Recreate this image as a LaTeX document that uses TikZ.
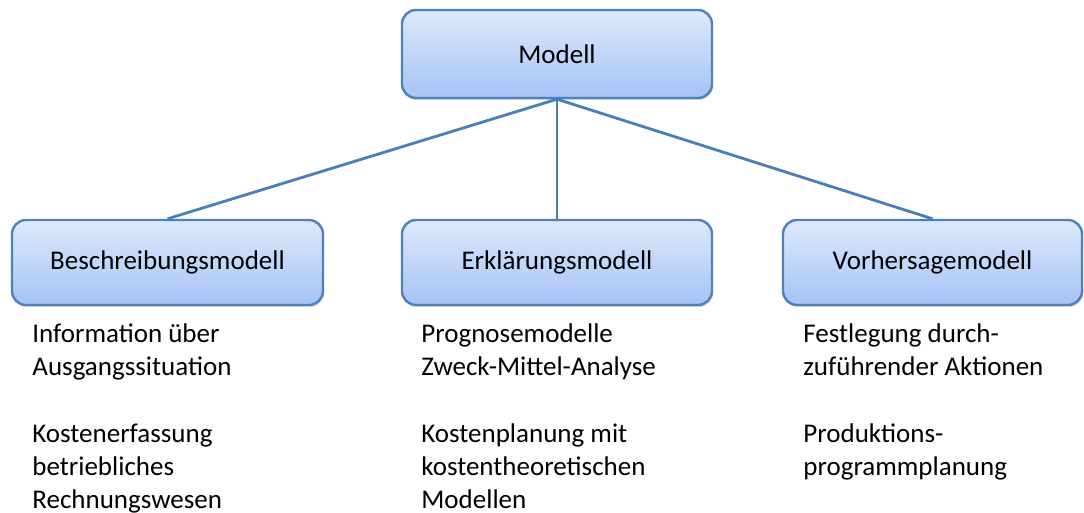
\documentclass[tikz,border=0pt]{standalone}
\usepackage{fontspec}
\setmainfont{Carlito}
\usetikzlibrary{shadows}
\definecolor{bord}{HTML}{4F81BD}
\definecolor{boxtop}{HTML}{DEE9FC}
\definecolor{boxbot}{HTML}{A5C3F4}
\definecolor{conncol}{HTML}{4A7EBB}
\begin{document}
\begin{tikzpicture}[x=0.5pt,y=-0.5pt,
  box/.style={draw=bord, line width=1.2pt, rounded corners=7pt,
    top color=boxtop, bottom color=boxbot, inner sep=0pt,
    font=\fontsize{13.5}{16.5}\selectfont,
    drop shadow={shadow xshift=0.6pt, shadow yshift=-1pt, opacity=0.25, fill=black!60}},
  conn/.style={draw=conncol, line width=1.4pt},
  desc/.style={anchor=north west, align=left, inner sep=0pt,
    font=\fontsize{13.5}{16.5}\selectfont}]
\useasboundingbox (0,0) rectangle (1084,513);
\node[box, minimum width=155pt, minimum height=44pt] (m) at (557,54) {Modell};
\node[box, minimum width=155.5pt, minimum height=42.5pt] (b) at (167.5,262.5) {Beschreibungsmodell};
\node[box, minimum width=155pt, minimum height=42.5pt] (e) at (557,262.5) {Erklärungsmodell};
\node[box, minimum width=149.5pt, minimum height=42.5pt] (v) at (932.5,262.5) {Vorhersagemodell};
\draw[conn] (m.south) -- (b.north);
\draw[conn] (m.south) -- (e.north);
\draw[conn] (m.south) -- (v.north);
\node[desc] (tb) at (32,323) {Information über\\Ausgangssituation\\[17pt]Kostenerfassung\\betriebliches\\Rechnungswesen};
\node[desc] (te) at (421,323) {Prognosemodelle\\Zweck-Mittel-Analyse\\[17pt]Kostenplanung mit\\kostentheoretischen\\Modellen};
\node[desc] (tv) at (803,323) {Festlegung durch-\\zuführender Aktionen\\[17pt]Produktions-\\programmplanung};
\end{tikzpicture}
\end{document}
